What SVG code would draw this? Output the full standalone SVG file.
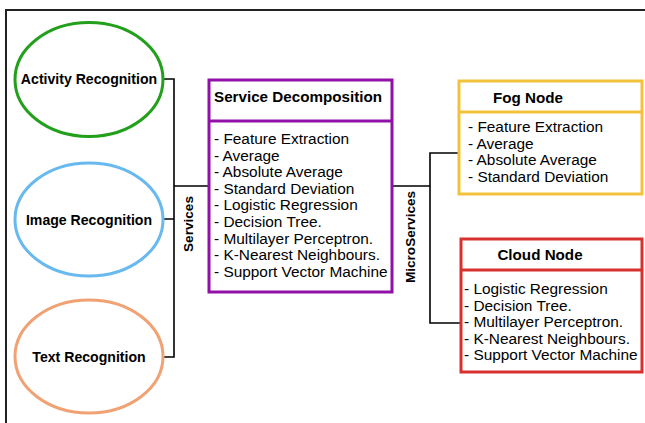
<svg xmlns="http://www.w3.org/2000/svg" width="645" height="423" viewBox="0 0 645 423">
<style>
.t{font-family:"Liberation Sans",Arial,sans-serif;fill:#000}
.b{font-weight:bold}
.e{font-size:14.1px;text-anchor:middle;font-weight:bold}
.h{font-size:15.2px;font-weight:bold}
.l{font-size:15.4px}
.c{fill:none;stroke:#000;stroke-width:1.6}
.frame{fill:none;stroke:#222;stroke-width:2}
</style>
<rect width="645" height="423" fill="#fff"/>
<path class="frame" d="M6,423 V10 H645"/>
<g id="connectors">
<path class="c" d="M163,79 H174 V357 H163 M163,219 H174 M174,186 H209"/>
<path class="c" d="M392,186 H430 M459,153 H430 V323 H461"/>
<text class="t b" font-size="13.6" text-anchor="middle" transform="translate(193,224) rotate(-90)">Services</text>
<text class="t b" font-size="13.6" text-anchor="middle" transform="translate(415,237) rotate(-90)">MicroServices</text>
</g>
<g id="activity">
<ellipse cx="89" cy="79.5" rx="74" ry="57" fill="none" stroke="#22a01c" stroke-width="3"/>
<text class="t e" x="89" y="84">Activity Recognition</text>
</g>
<g id="image">
<ellipse cx="89" cy="219.5" rx="74" ry="56.5" fill="none" stroke="#68b9ee" stroke-width="3"/>
<text class="t e" x="89" y="224.5">Image Recognition</text>
</g>
<g id="text">
<ellipse cx="89" cy="356.5" rx="74" ry="56.5" fill="none" stroke="#f0a274" stroke-width="3"/>
<text class="t e" x="89" y="362">Text Recognition</text>
</g>
<g id="service">
<rect x="209" y="80" width="183" height="212" fill="#fff" stroke="#9010a8" stroke-width="3"/>
<line x1="209" y1="121" x2="392" y2="121" stroke="#9010a8" stroke-width="3"/>
<text class="t h" x="214" y="102">Service Decomposition</text>
<text class="t l" x="214" y="144">- Feature Extraction</text>
<text class="t l" x="214" y="160.6">- Average</text>
<text class="t l" x="214" y="177.2">- Absolute Average</text>
<text class="t l" x="214" y="193.8">- Standard Deviation</text>
<text class="t l" x="214" y="210.4">- Logistic Regression</text>
<text class="t l" x="214" y="227">- Decision Tree.</text>
<text class="t l" x="214" y="243.6">- Multilayer Perceptron.</text>
<text class="t l" x="214" y="260.2">- K-Nearest Neighbours.</text>
<text class="t l" x="214" y="276.8">- Support Vector Machine</text>
</g>
<g id="fog">
<rect x="459" y="81" width="183" height="113" fill="#fff" stroke="#f2c23c" stroke-width="3"/>
<line x1="459" y1="112" x2="642" y2="112" stroke="#f2c23c" stroke-width="3"/>
<text class="t h" x="528" y="103" text-anchor="middle">Fog Node</text>
<text class="t l" x="468" y="132">- Feature Extraction</text>
<text class="t l" x="468" y="148.6">- Average</text>
<text class="t l" x="468" y="165.2">- Absolute Average</text>
<text class="t l" x="468" y="181.8">- Standard Deviation</text>
</g>
<g id="cloud">
<rect x="461" y="239" width="181" height="133" fill="#fff" stroke="#d8302e" stroke-width="3"/>
<line x1="461" y1="270" x2="642" y2="270" stroke="#d8302e" stroke-width="3"/>
<text class="t h" x="540" y="260" text-anchor="middle">Cloud Node</text>
<text class="t l" x="464" y="294">- Logistic Regression</text>
<text class="t l" x="464" y="310.6">- Decision Tree.</text>
<text class="t l" x="464" y="327.2">- Multilayer Perceptron.</text>
<text class="t l" x="464" y="343.8">- K-Nearest Neighbours.</text>
<text class="t l" x="464" y="360.4">- Support Vector Machine</text>
</g>
</svg>
